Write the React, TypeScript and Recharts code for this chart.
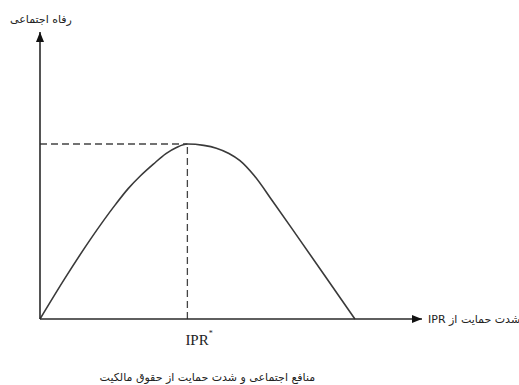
import { LineChart, Line, XAxis, YAxis, ReferenceLine, ReferenceDot } from "recharts";

// intensity of IPR protection (0 = none, 100 = where welfare falls back to zero)
const protection = [0, 8, 16, 24, 28, 32, 36, 40, 43.5, 46.8, 52, 56, 60, 63.5, 68, 74, 82, 91, 100];
// social welfare, peak normalised to 100
const welfare = [0, 23.5, 45.5, 65.5, 74.5, 82, 88.5, 94.5, 98.2, 100, 99.2, 97.6, 94.6, 90.5, 82, 67, 46.5, 23.3, 0];

const PEAK_X = 46.8;
const PEAK_Y = 100;
const X_MAX = 121.3;
const Y_MAX = 164;

const yTitle = "رفاه اجتماعی";
const xTitle = "شدت حمایت از IPR";
const peakLabel = "IPR";
const caption = "منافع اجتماعی و شدت حمایت از حقوق مالکیت";

const data = protection.map((x, i) => ({ x, y: welfare[i] }));

const ink = "#2a2a2a";
const persian = "'DejaVu Sans', 'Noto Sans', sans-serif";
const latin = "'Liberation Serif', 'DejaVu Serif', serif";

function YArrow({ cx, cy }: any) {
  return (
    <g>
      <polygon points={`${cx},${cy} ${cx - 4},${cy + 10} ${cx + 4},${cy + 10}`} fill="#111" />
      <text x={cx + 1} y={cy - 9} textAnchor="middle" direction="rtl" fontFamily={persian} fontSize={11} fill="#222">
        {yTitle}
      </text>
    </g>
  );
}

function XArrow({ cx, cy }: any) {
  return (
    <g>
      <polygon points={`${cx},${cy} ${cx - 10},${cy - 4} ${cx - 10},${cy + 4}`} fill="#111" />
      <text x={cx + 6} y={cy + 4} textAnchor="end" direction="rtl" fontFamily={persian} fontSize={11} fill="#222">
        {xTitle}
      </text>
    </g>
  );
}

function PeakLabel({ cx, cy }: any) {
  return (
    <g>
      <text x={cx - 2} y={cy + 26} textAnchor="start" fontFamily={latin} fontSize={15} fill="#222">
        {peakLabel}
        <tspan dy={-9} fontSize={8}>*</tspan>
      </text>
      <text x={cx + 20} y={cy + 62} textAnchor="middle" direction="rtl" fontFamily={persian} fontSize={11} fill="#222">
        {caption}
      </text>
    </g>
  );
}

export default function App() {
  return (
    <div style={{ position: "absolute", left: 0, top: 0, width: 519, height: 385, background: "#fff" }}>
      <LineChart width={519} height={385} data={data} margin={{ top: 32, right: 97, bottom: 65, left: 39 }}>
        <XAxis
          dataKey="x"
          type="number"
          domain={[0, X_MAX]}
          tick={false}
          tickLine={false}
          height={1}
          axisLine={{ stroke: ink, strokeWidth: 1.6 }}
        />
        <YAxis
          type="number"
          domain={[0, Y_MAX]}
          tick={false}
          tickLine={false}
          width={1}
          axisLine={{ stroke: ink, strokeWidth: 1.6 }}
        />
        <ReferenceLine
          segment={[{ x: 0, y: PEAK_Y }, { x: PEAK_X, y: PEAK_Y }]}
          stroke="#444"
          strokeWidth={1.3}
          strokeDasharray="7 4"
        />
        <ReferenceLine
          segment={[{ x: PEAK_X, y: 0 }, { x: PEAK_X, y: PEAK_Y }]}
          stroke="#444"
          strokeWidth={1.3}
          strokeDasharray="7 4"
        />
        <Line
          type="monotone"
          dataKey="y"
          stroke="#3a3a3a"
          strokeWidth={1.6}
          dot={false}
          activeDot={false}
          isAnimationActive={false}
        />
        <ReferenceDot x={0} y={Y_MAX} r={0} ifOverflow="visible" shape={YArrow} />
        <ReferenceDot x={X_MAX} y={0} r={0} ifOverflow="visible" shape={XArrow} />
        <ReferenceDot x={PEAK_X} y={0} r={0} ifOverflow="visible" shape={PeakLabel} />
      </LineChart>
    </div>
  );
}
